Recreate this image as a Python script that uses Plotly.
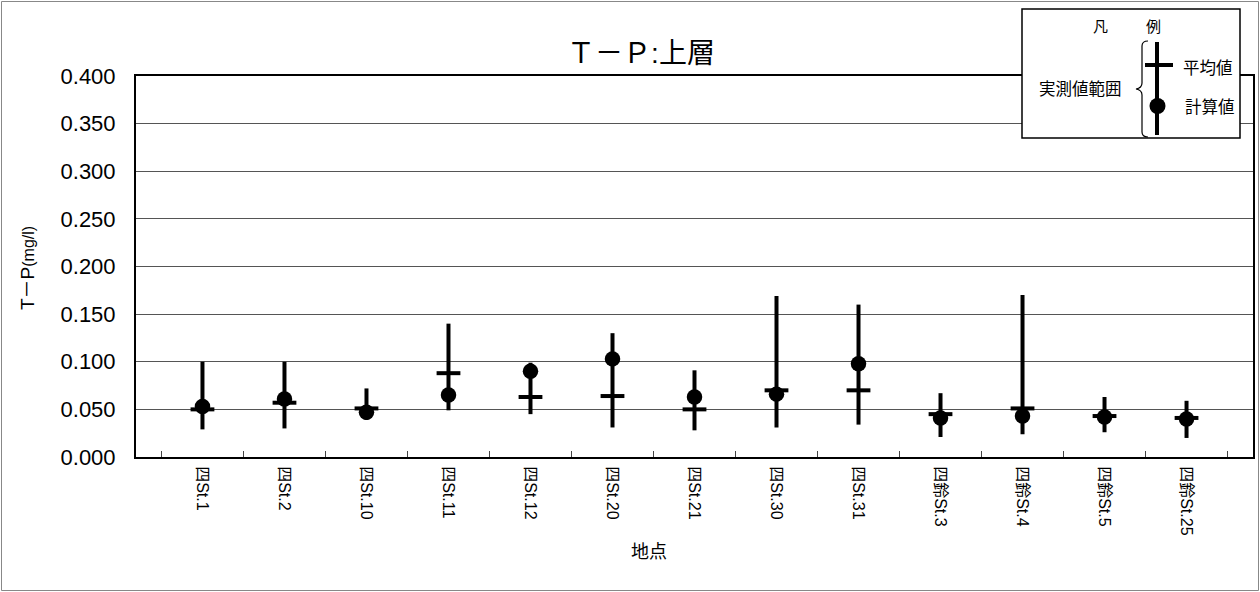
import plotly.graph_objects as go

stations = ["四St.1", "四St.2", "四St.10", "四St.11", "四St.12", "四St.20", "四St.21",
            "四St.30", "四St.31", "四鈴St.3", "四鈴St.4", "四鈴St.5", "四鈴St.25"]
obs_max = [0.100, 0.100, 0.072, 0.140, 0.099, 0.130, 0.091, 0.169, 0.160, 0.067, 0.170, 0.063, 0.059]
obs_min = [0.029, 0.030, 0.039, 0.049, 0.045, 0.031, 0.028, 0.031, 0.034, 0.021, 0.024, 0.026, 0.020]
obs_mean = [0.050, 0.057, 0.051, 0.088, 0.063, 0.064, 0.050, 0.070, 0.070, 0.045, 0.051, 0.043, 0.041]
calc_val = [0.053, 0.061, 0.047, 0.065, 0.090, 0.103, 0.063, 0.066, 0.098, 0.041, 0.043, 0.042, 0.040]
y_ticks = [0.0, 0.05, 0.10, 0.15, 0.20, 0.25, 0.30, 0.35, 0.40]

W, H = 1260, 592
L, R, T, B = 136, 7, 76, 135
PW, PH = W - L - R, H - T - B
FONT = "Liberation Sans, Arial, Noto Sans CJK JP, sans-serif"


def px(x):
    return (x - L) / PW


def py(y):
    return (H - B - y) / PH


fig = go.Figure()

fig.add_trace(go.Scatter(
    x=stations, y=obs_mean, mode="markers",
    marker=dict(symbol="line-ew", size=17, color="black", line=dict(width=4, color="black")),
    error_y=dict(type="data", symmetric=False,
                 array=[a - m for a, m in zip(obs_max, obs_mean)],
                 arrayminus=[m - b for m, b in zip(obs_mean, obs_min)],
                 thickness=4, width=0, color="black"),
    showlegend=False, hoverinfo="skip"))

fig.add_trace(go.Scatter(
    x=stations, y=calc_val, mode="markers",
    marker=dict(symbol="circle", size=15.5, color="black"),
    showlegend=False, hoverinfo="skip"))

shapes = []
# outer chart frame
shapes.append(dict(type="rect", xref="paper", yref="paper",
                   x0=px(1.5), x1=px(1258.5), y0=py(590.5), y1=py(1.5),
                   line=dict(color="#888", width=1), fillcolor="rgba(0,0,0,0)", layer="below"))
# legend box
shapes.append(dict(type="rect", xref="paper", yref="paper",
                   x0=px(1022), x1=px(1240), y0=py(138), y1=py(9),
                   line=dict(color="black", width=1.5), fillcolor="white", layer="above"))
# legend range line
shapes.append(dict(type="line", xref="paper", yref="paper",
                   x0=px(1157), x1=px(1157), y0=py(135), y1=py(42),
                   line=dict(color="black", width=4), layer="above"))
# legend mean bar
shapes.append(dict(type="line", xref="paper", yref="paper",
                   x0=px(1145), x1=px(1173), y0=py(65), y1=py(65),
                   line=dict(color="black", width=4), layer="above"))
# legend circle
shapes.append(dict(type="circle", xref="paper", yref="paper",
                   x0=px(1149.5), x1=px(1165.5), y0=py(114), y1=py(98),
                   line=dict(color="black", width=0), fillcolor="black", layer="above"))
# legend brace
bx, by_top, by_mid, by_bot = 1140, 41, 89, 137
path = ("M {},{} Q {},{} {},{} L {},{} Q {},{} {},{} Q {},{} {},{} L {},{} Q {},{} {},{}").format(
    px(bx + 8), py(by_top),
    px(bx + 2), py(by_top), px(bx + 2), py(by_top + 5),
    px(bx + 2), py(by_mid - 6),
    px(bx + 2), py(by_mid - 1), px(bx - 4), py(by_mid),
    px(bx + 2), py(by_mid + 1), px(bx + 2), py(by_mid + 6),
    px(bx + 2), py(by_bot - 5),
    px(bx + 2), py(by_bot), px(bx + 8), py(by_bot))
shapes.append(dict(type="path", xref="paper", yref="paper", path=path,
                   line=dict(color="black", width=1.2), layer="above"))


def note(text, x, y, size, angle=0):
    return dict(text=text, x=px(x), y=py(y), xref="paper", yref="paper", showarrow=False,
                xanchor="center", yanchor="middle", textangle=angle,
                font=dict(size=size, color="black", family=FONT))


annotations = [
    note("凡", 1100, 26, 15),
    note("例", 1153, 26, 15),
    note("実測値範囲", 1080, 89, 16.5),
    note("平均値", 1208, 68, 16.5),
    note("計算値", 1210, 107, 16.5),
    note("T－P<span style='font-size:16px'>(mg/l)</span>", 27, 268, 19, -90),
    note("地点", 649, 552, 18),
]

fig.update_layout(
    width=W, height=H,
    margin=dict(l=L, r=R, t=T, b=B, autoexpand=False),
    paper_bgcolor="white", plot_bgcolor="white",
    title=dict(text="Ｔ－Ｐ:上層", x=641 / W, y=1 - 53 / H, xanchor="center", yanchor="middle",
               xref="container", yref="container",
               font=dict(size=28, color="black", family=FONT)),
    font=dict(family=FONT, color="black"),
    shapes=shapes, annotations=annotations,
    showlegend=False,
)

fig.update_xaxes(
    type="category", categoryorder="array", categoryarray=stations,
    tickangle=90, tickfont=dict(size=16, color="black", family=FONT),
    ticks="inside", ticklen=6, tickcolor="#444", tickson="boundaries",
    showline=True, linecolor="black", linewidth=2, mirror=True,
    showgrid=False, ticklabelstandoff=4,
)
fig.update_yaxes(
    range=[0, 0.4], tickvals=y_ticks, tickformat=".3f",
    tickfont=dict(size=22, color="black", family=FONT),
    showline=True, linecolor="black", linewidth=2, mirror=True,
    showgrid=True, gridcolor="#555", gridwidth=1, zeroline=False,
    ticks="", ticklabelstandoff=14,
)

fig.write_html("out.html", config={"displayModeBar": False},
               post_script="document.body.style.margin='0';")
